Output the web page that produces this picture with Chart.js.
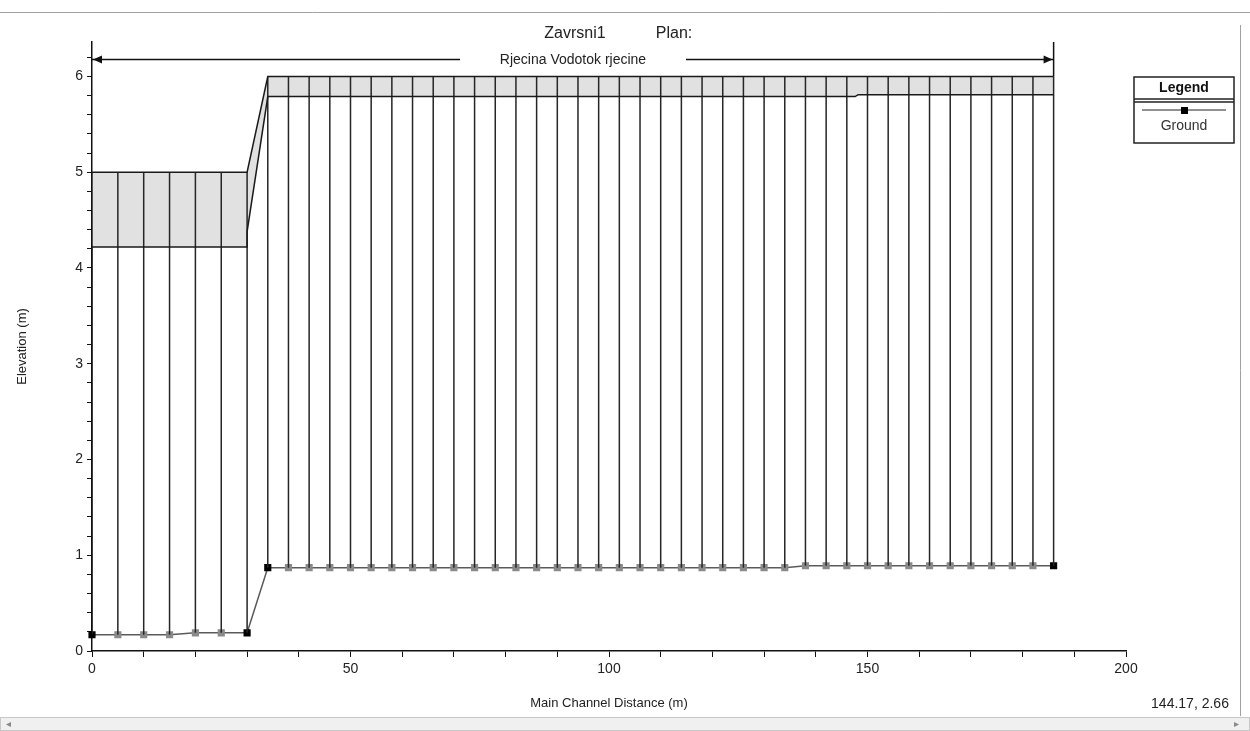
<!DOCTYPE html>
<html>
<head>
<meta charset="utf-8">
<script src="https://cdn.jsdelivr.net/npm/chart.js"></script>
<style>
  body { margin: 0; background: #fff; }
  #profile { display: block; }
</style>
</head>
<body>
<canvas id="profile" width="1250" height="731"></canvas>
<script>
// river stations (m) and ground elevation (m)
let stations = [0, 5, 10, 15, 20, 25, 30, 34, 38, 42, 46, 50, 54, 58, 62, 66, 70, 74, 78, 82, 86, 90, 94, 98, 102, 106, 110, 114, 118, 122, 126, 130, 134, 138, 142, 146, 150, 154, 158, 162, 166, 170, 174, 178, 182, 186];
let ground = [0.17, 0.17, 0.17, 0.17, 0.19, 0.19, 0.19, 0.87, 0.87, 0.87, 0.87, 0.87, 0.87, 0.87, 0.87, 0.87, 0.87, 0.87, 0.87, 0.87, 0.87, 0.87, 0.87, 0.87, 0.87, 0.87, 0.87, 0.87, 0.87, 0.87, 0.87, 0.87, 0.87, 0.89, 0.89, 0.89, 0.89, 0.89, 0.89, 0.89, 0.89, 0.89, 0.89, 0.89, 0.89, 0.89];
// real cross sections (black markers), the rest are interpolated
let keyStations = [0, 30, 34, 186];

// deck / culvert outline
let deckTopX = [0, 30, 34, 186];
let deckTopY = [5.0, 5.0, 6.0, 6.0];
let deckLowX = [0, 30, 30, 34, 147.6, 148.2, 186];
let deckLowY = [4.22, 4.22, 4.38, 5.79, 5.79, 5.81, 5.81];

let xTicks = [0, 50, 100, 150, 200];
let yTicks = [0, 1, 2, 3, 4, 5, 6];

const FONT = '"Liberation Sans", Arial, sans-serif';

function topAt(x) {
    for (let i = 0; i < deckTopX.length - 1; i++) {
        if (x >= deckTopX[i] && x <= deckTopX[i + 1]) {
            let t = (x - deckTopX[i]) / (deckTopX[i + 1] - deckTopX[i]);
            return deckTopY[i] + t * (deckTopY[i + 1] - deckTopY[i]);
        }
    }
    return deckTopY[deckTopY.length - 1];
}

let groundPts = stations.map((s, i) => ({x: s, y: ground[i]}));
let deckTop = deckTopX.map((x, i) => ({x: x, y: deckTopY[i]}));
let deckLow = deckLowX.map((x, i) => ({x: x, y: deckLowY[i]}));

// vertical section lines, ground up to deck top, broken by nulls
let verticals = [];
stations.forEach((s, i) => {
    verticals.push({x: s, y: ground[i]});
    verticals.push({x: s, y: topAt(s)});
    verticals.push({x: s, y: null});
});

let markerColors = stations.map(s => keyStations.includes(s) ? '#000' : '#8a8a8a');

const decor = {
    id: 'decor',
    beforeDraw(chart) {
        const c = chart.ctx;
        c.save();
        c.fillStyle = '#fff';
        c.fillRect(0, 0, chart.width, chart.height);
        // window frame
        c.strokeStyle = '#a0a0a0';
        c.lineWidth = 1;
        c.beginPath();
        c.moveTo(0, 12.5); c.lineTo(1250, 12.5);
        c.moveTo(1240.5, 25); c.lineTo(1240.5, 716);
        c.stroke();
        c.fillStyle = '#f0f0f0';
        c.fillRect(0, 717, 1250, 14);
        c.strokeStyle = '#c8c8c8';
        c.strokeRect(0.5, 717.5, 1249, 13);
        c.fillStyle = '#888';
        c.font = '10px ' + FONT;
        c.textAlign = 'center';
        c.textBaseline = 'middle';
        c.fillText('◂', 8, 724);
        c.fillText('▸', 1236, 724);
        c.restore();
    },
    afterDraw(chart) {
        const c = chart.ctx;
        const xs = chart.scales.x, ys = chart.scales.y;
        c.save();
        c.fillStyle = '#222';
        c.textBaseline = 'middle';
        c.textAlign = 'center';
        c.font = '16px ' + FONT;
        c.fillText('Zavrsni1', 575, 34);
        c.fillText('Plan:', 674, 34);

        // reach arrow
        let x0 = xs.getPixelForValue(stations[0]);
        let x1 = xs.getPixelForValue(stations[stations.length - 1]);
        let ay = Math.round(ys.getPixelForValue(6.18)) + 0.5;
        c.strokeStyle = '#111';
        c.lineWidth = 1.5;
        c.beginPath();
        c.moveTo(x0, ay); c.lineTo(460, ay);
        c.moveTo(686, ay); c.lineTo(x1, ay);
        c.moveTo(x1, chart.chartArea.top); c.lineTo(x1, ys.getPixelForValue(topAt(stations[stations.length - 1])));
        c.stroke();
        c.fillStyle = '#111';
        c.beginPath();
        c.moveTo(x0 + 1, ay); c.lineTo(x0 + 10, ay - 4); c.lineTo(x0 + 10, ay + 4); c.closePath();
        c.moveTo(x1 - 1, ay); c.lineTo(x1 - 10, ay - 4); c.lineTo(x1 - 10, ay + 4); c.closePath();
        c.fill();
        c.fillStyle = '#222';
        c.font = '14px ' + FONT;
        c.fillText('Rjecina Vodotok rjecine', 573, ay + 1);

        // legend box
        c.strokeStyle = '#222';
        c.lineWidth = 1.5;
        c.strokeRect(1134, 77, 100, 66);
        c.beginPath();
        c.moveTo(1134, 99); c.lineTo(1234, 99);
        c.moveTo(1134, 102); c.lineTo(1234, 102);
        c.stroke();
        c.font = 'bold 14px ' + FONT;
        c.fillStyle = '#111';
        c.fillText('Legend', 1184, 88);
        c.lineWidth = 1.2;
        c.beginPath();
        c.moveTo(1142, 110); c.lineTo(1226, 110);
        c.stroke();
        c.fillStyle = '#000';
        c.fillRect(1181, 107, 7, 7);
        c.font = '14px ' + FONT;
        c.fillStyle = '#333';
        c.fillText('Ground', 1184, 126);

        c.font = '14px ' + FONT;
        c.fillStyle = '#222';
        c.fillText('144.17, 2.66', 1190, 704);
        c.restore();
    }
};

new Chart(document.getElementById('profile'), {
    type: 'scatter',
    data: {
        datasets: [
            {
                label: 'Deck top',
                data: deckTop,
                showLine: true,
                borderColor: '#1a1a1a',
                borderWidth: 1.5,
                pointRadius: 0,
                fill: {target: 1},
                backgroundColor: '#e1e1e1'
            },
            {
                label: 'Deck bottom',
                data: deckLow,
                showLine: true,
                borderColor: '#1a1a1a',
                borderWidth: 1.5,
                pointRadius: 0,
                fill: false
            },
            {
                label: 'Sections',
                data: verticals,
                showLine: true,
                spanGaps: false,
                borderColor: '#262626',
                borderWidth: 1.5,
                pointRadius: 0,
                fill: false
            },
            {
                label: 'Ground',
                data: groundPts,
                showLine: true,
                clip: false,
                borderColor: '#5a5a5a',
                borderWidth: 1.5,
                pointStyle: 'rect',
                pointRadius: 4,
                pointBackgroundColor: markerColors,
                pointBorderColor: markerColors,
                fill: false
            }
        ]
    },
    options: {
        responsive: false,
        animation: false,
        layout: {padding: {top: 42, right: 124, left: 0, bottom: 0}},
        plugins: {
            legend: {display: false},
            tooltip: {enabled: false},
            filler: {drawTime: 'beforeDatasetsDraw'}
        },
        scales: {
            x: {
                type: 'linear',
                min: 0,
                max: 200,
                afterFit: s => { s.height = 80; },
                ticks: {
                    stepSize: 10,
                    autoSkip: false,
                    maxRotation: 0,
                    padding: 4,
                    color: '#222',
                    font: {family: FONT, size: 14},
                    callback: v => xTicks.includes(v) ? v : ''
                },
                grid: {drawOnChartArea: false, tickLength: 6, color: '#111'},
                border: {color: '#111', width: 1.5},
                title: {
                    display: true,
                    text: 'Main Channel Distance (m)',
                    color: '#222',
                    font: {family: FONT, size: 13},
                    padding: {top: 0, bottom: 20}
                }
            },
            y: {
                type: 'linear',
                min: 0,
                max: 6.36,
                afterFit: s => { s.width = 92; },
                ticks: {
                    stepSize: 0.2,
                    includeBounds: false,
                    autoSkip: false,
                    padding: 4,
                    color: '#222',
                    font: {family: FONT, size: 14},
                    callback: v => {
                        let r = Math.round(v);
                        return (Math.abs(v - r) < 1e-6 && yTicks.includes(r)) ? r : '';
                    }
                },
                grid: {drawOnChartArea: false, tickLength: 5, color: '#111'},
                border: {color: '#111', width: 1.5},
                title: {
                    display: true,
                    text: 'Elevation (m)',
                    color: '#222',
                    font: {family: FONT, size: 13},
                    padding: {top: 15, bottom: 0}
                }
            }
        }
    },
    plugins: [decor]
});
</script>
</body>
</html>
